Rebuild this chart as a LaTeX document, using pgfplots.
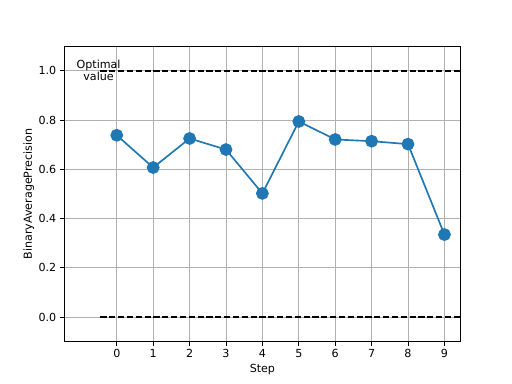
\documentclass[border=0pt]{standalone}
\usepackage{fontspec}
\setmainfont{DejaVu Sans}
\usepackage{pgfplots}
\usetikzlibrary{calc}
\pgfplotsset{compat=1.18}
\definecolor{tabblue}{HTML}{1F77B4}
\definecolor{gridgray}{HTML}{B0B0B0}
\begin{document}
\begin{tikzpicture}
\begin{axis}[
  scale only axis,
  width=357.12pt, height=266.11pt,
  xmin=-1.45, xmax=9.45,
  ymin=-0.1, ymax=1.1,
  xtick={0,1,2,3,4,5,6,7,8,9},
  ytick={0,0.2,0.4,0.6,0.8,1.0},
  yticklabel style={/pgf/number format/.cd,fixed,fixed zerofill,precision=1},
  /pgf/number format/assume math mode=true,
  tick label style={font=\fontsize{10}{12}\selectfont},
  label style={font=\fontsize{10}{12}\selectfont},
  xlabel={Step}, ylabel={BinaryAveragePrecision},
  xlabel style={yshift=1pt},
  ylabel style={yshift=-3pt},
  grid=major,
  major grid style={gridgray, line width=0.8pt},
  axis line style={black, line width=0.8pt},
  tick style={black, line width=0.8pt},
  tick align=outside,
  major tick length=3.5pt,
  xtick pos=bottom, ytick pos=left,
  clip=false,
]
\addplot[black, line width=1.5pt, dash pattern=on 5.55pt off 2.4pt] coordinates {(-0.45,1.0) (9.45,1.0)};
\addplot[black, line width=1.5pt, dash pattern=on 5.55pt off 2.4pt] coordinates {(-0.45,0.0) (9.45,0.0)};
\addplot[tabblue, line width=1.5pt, mark=*, mark size=5pt, mark options={fill=tabblue, draw=tabblue}] coordinates {
(0,0.738) (1,0.607) (2,0.725) (3,0.680) (4,0.502) (5,0.794) (6,0.721) (7,0.714) (8,0.702) (9,0.335)
};
\node[align=center, font=\fontsize{10}{11}\selectfont, inner sep=0pt] at (axis cs:-0.5,1.0) {Optimal\\value};
\path[use as bounding box] (rel axis cs:0,0) ++(-57.6pt,-38.02pt) rectangle ($(rel axis cs:1,1)+(46.08pt,41.47pt)$);
\end{axis}
\end{tikzpicture}
\end{document}
